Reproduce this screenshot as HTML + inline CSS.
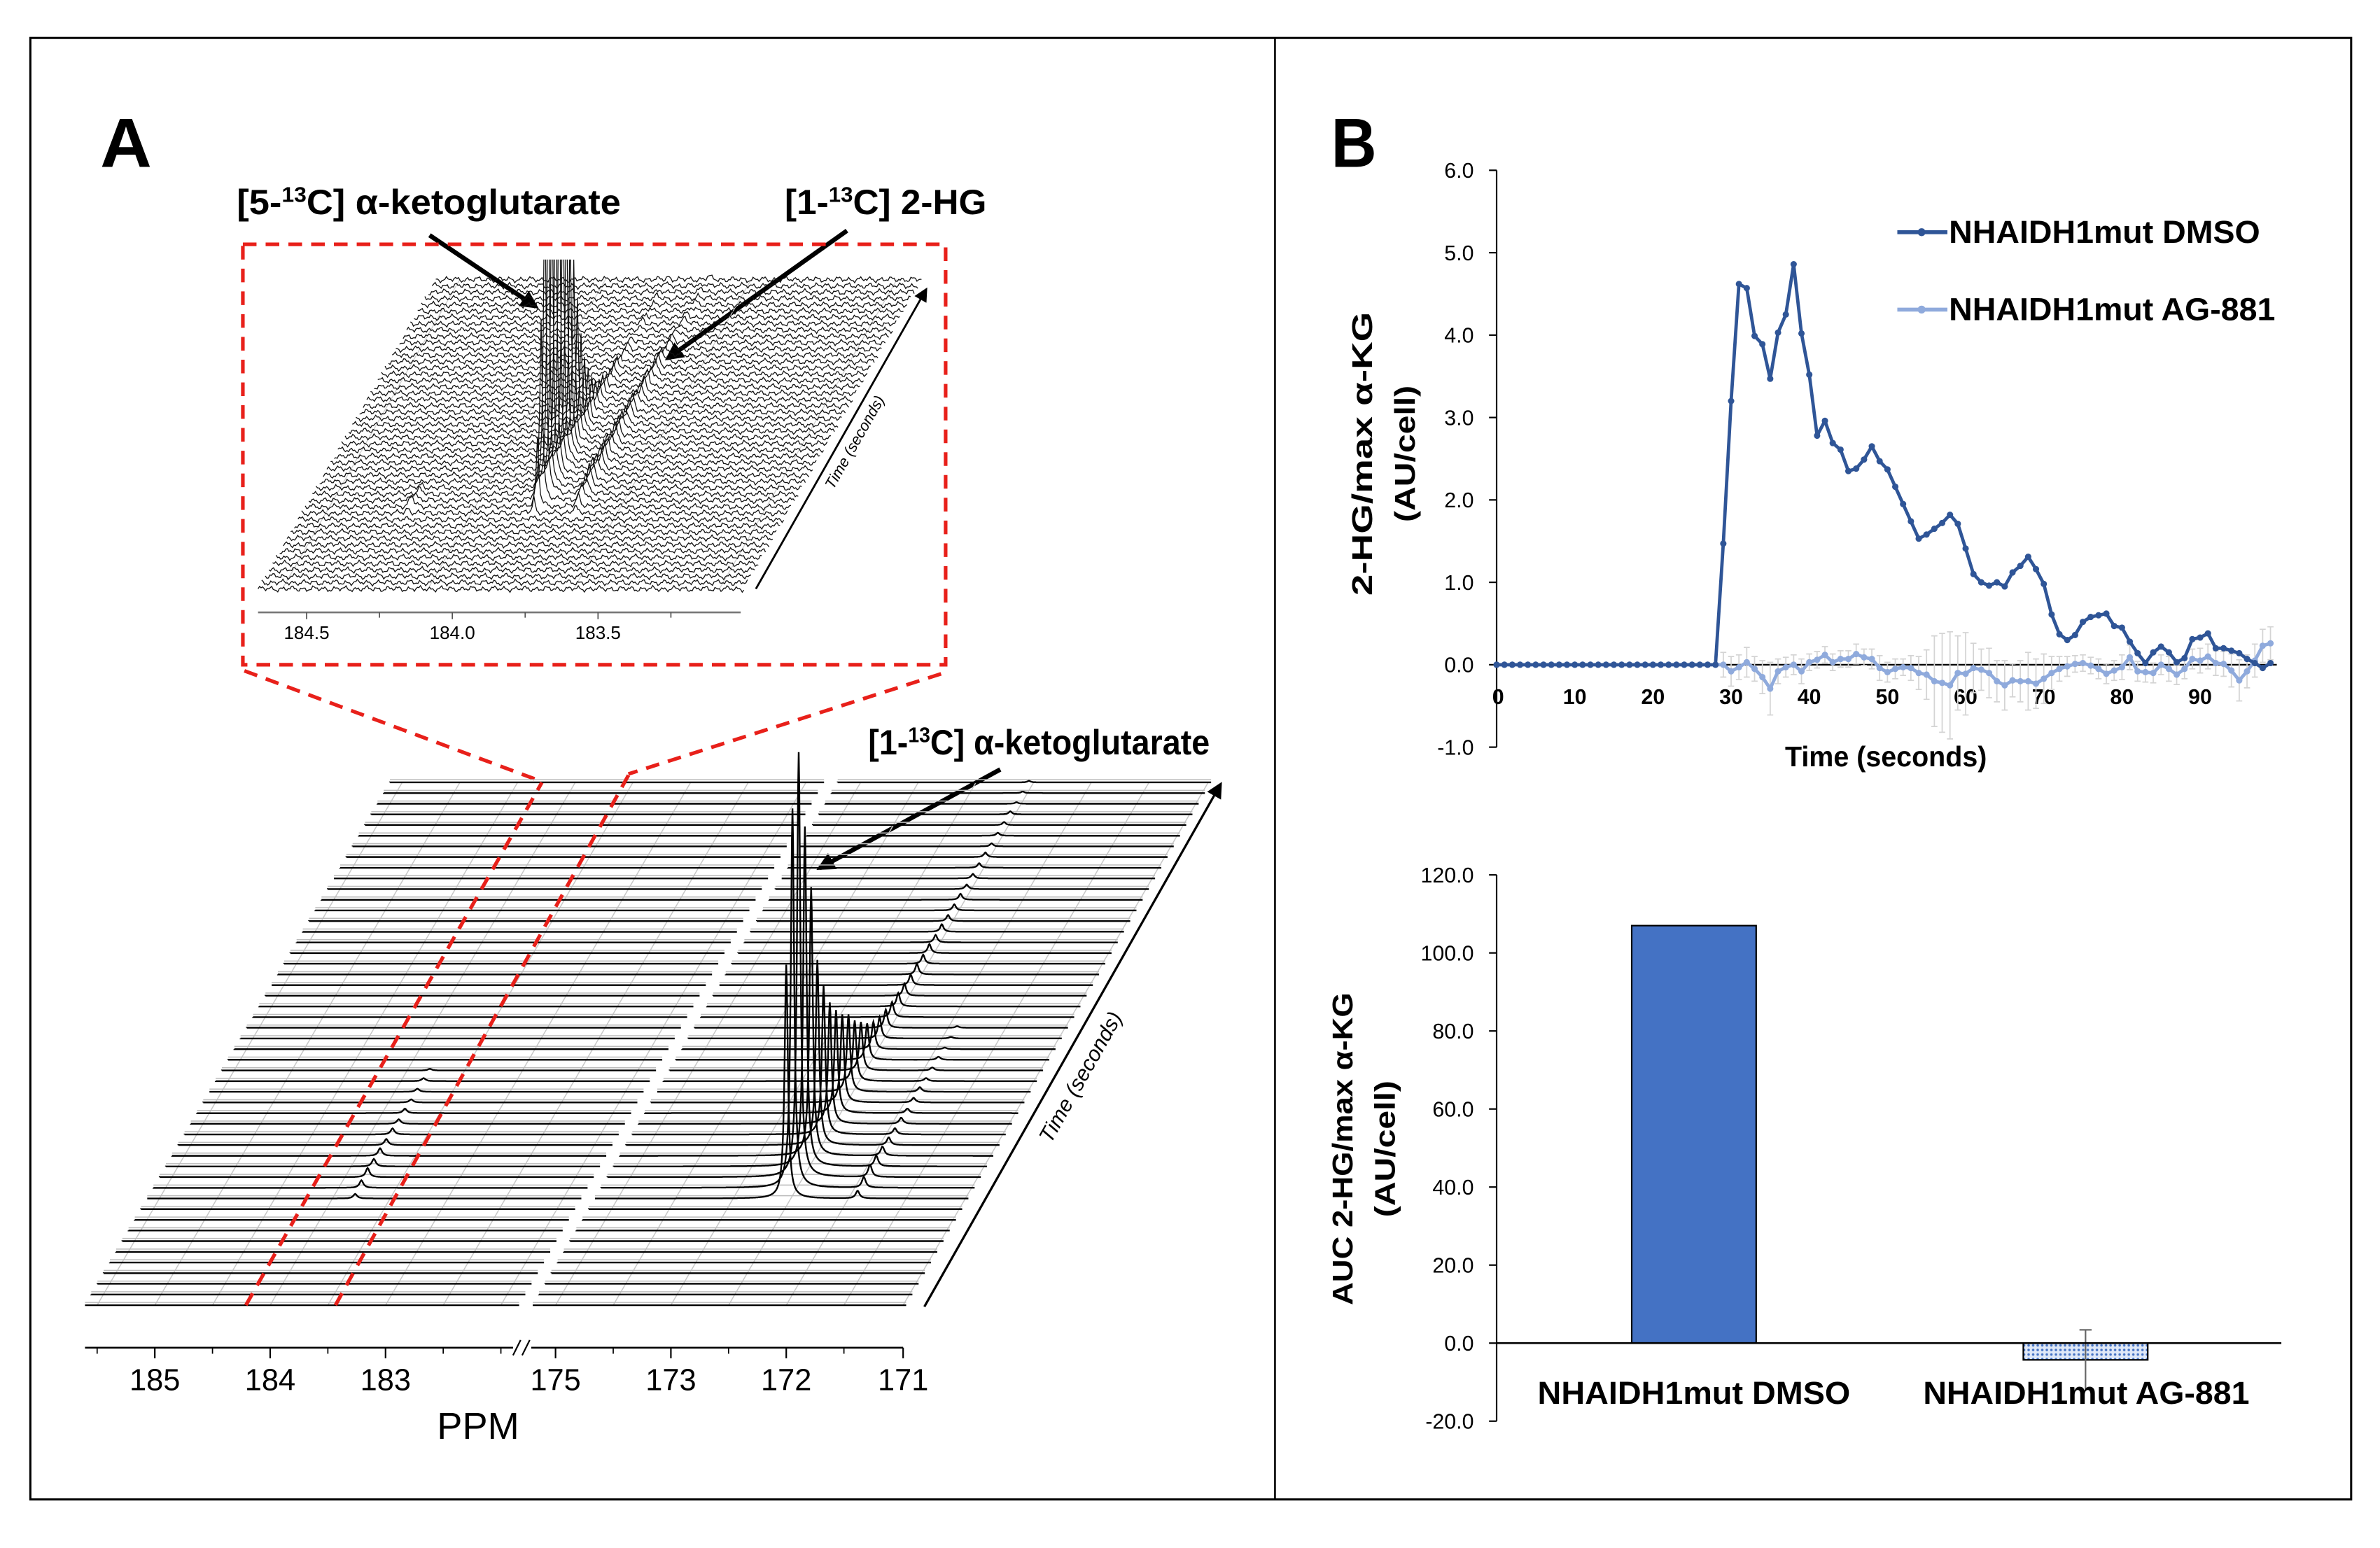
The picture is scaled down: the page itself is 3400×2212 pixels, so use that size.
<!DOCTYPE html>
<html><head><meta charset="utf-8"><style>
html,body{margin:0;padding:0;background:#fff}
svg{display:block}
.cond{font-family:"Liberation Sans Narrow","Liberation Sans",sans-serif;font-weight:bold}
.tick{font-family:"Liberation Sans Narrow","Liberation Sans",sans-serif;font-size:14px;fill:#000}
.ttl{font-family:"Liberation Sans","DejaVu Sans",sans-serif;font-weight:bold;font-size:19px}
</style></head><body>
<svg id="fig" xmlns="http://www.w3.org/2000/svg" width="3400" height="2212" viewBox="0 0 1568 1020" preserveAspectRatio="none">
<defs>
<marker id="ah" viewBox="0 0 10 10" refX="8" refY="5" markerWidth="4" markerHeight="4" orient="auto"><path d="M0,0 L10,5 L0,10 z" fill="#000"/></marker>
<marker id="ahs" viewBox="0 0 10 10" refX="8" refY="5" markerWidth="7" markerHeight="7" orient="auto"><path d="M0,0 L10,5 L0,10 z" fill="#000"/></marker>
<pattern id="dots" width="3" height="3" patternUnits="userSpaceOnUse"><rect width="3" height="3" fill="#dfe8f7"/><circle cx="1.5" cy="1.5" r="0.8" fill="#4472C4"/></pattern>
<clipPath id="insetClip"><rect x="150" y="171" width="480" height="240"/></clipPath>
</defs>
<rect x="20" y="25" width="1529" height="963" fill="none" stroke="#000" stroke-width="1.4"/>
<line x1="840" y1="25" x2="840" y2="988" stroke="#000" stroke-width="1.2"/>
<text class="cond" x="66" y="110" font-size="46" textLength="34" lengthAdjust="spacingAndGlyphs">A</text>
<text class="cond" x="877" y="110" font-size="46" textLength="30" lengthAdjust="spacingAndGlyphs">B</text>

<!-- Panel A labels -->
<text class="cond" x="156" y="141" font-size="23" textLength="253" lengthAdjust="spacingAndGlyphs">[5-<tspan font-size="14" dy="-8">13</tspan><tspan dy="8">C] α-ketoglutarate</tspan></text>
<text class="cond" x="517" y="141" font-size="23" textLength="133" lengthAdjust="spacingAndGlyphs">[1-<tspan font-size="14" dy="-8">13</tspan><tspan dy="8">C] 2-HG</tspan></text>
<text class="cond" x="572" y="497" font-size="23" textLength="225" lengthAdjust="spacingAndGlyphs">[1-<tspan font-size="14" dy="-8">13</tspan><tspan dy="8">C] α-ketoglutarate</tspan></text>
<line x1="283" y1="155" x2="353" y2="202" stroke="#000" stroke-width="3" marker-end="url(#ah)"/>
<line x1="558" y1="152" x2="440" y2="236" stroke="#000" stroke-width="3" marker-end="url(#ah)"/>
<line x1="659" y1="507" x2="540" y2="572" stroke="#000" stroke-width="3" marker-end="url(#ah)"/>

<rect x="160" y="161" width="463" height="277" fill="none" stroke="#e8201a" stroke-width="2.4" stroke-dasharray="9,6"/>
<line x1="161" y1="442" x2="357" y2="515" stroke="#e8201a" stroke-width="2.4" stroke-dasharray="9,6"/>
<line x1="620" y1="444" x2="414" y2="510" stroke="#e8201a" stroke-width="2.4" stroke-dasharray="9,6"/>

<g id="inset"></g>
<g id="lower"></g>

<line x1="498" y1="388" x2="610" y2="191" stroke="#000" stroke-width="1.3" marker-end="url(#ahs)"/>
<text transform="translate(566,293) rotate(-60.4)" font-family="Liberation Sans,sans-serif" font-style="italic" font-size="10" text-anchor="middle">Time (seconds)</text>
<line x1="609" y1="861" x2="804" y2="517" stroke="#000" stroke-width="1.5" marker-end="url(#ahs)"/>
<text transform="translate(716,712) rotate(-60.5)" font-family="Liberation Sans,sans-serif" font-style="italic" font-size="14" text-anchor="middle">Time (seconds)</text>
<text x="315" y="948" font-family="Liberation Sans,sans-serif" font-size="25" text-anchor="middle">PPM</text>

<g id="c1"></g>
<g id="c2"></g>
</svg>
<script>
var NS='http://www.w3.org/2000/svg';
function mk(parent,tag,attrs,txt){var e=document.createElementNS(NS,tag);for(var k in attrs)e.setAttribute(k,attrs[k]);if(txt!==undefined)e.textContent=txt;parent.appendChild(e);return e;}

/* ===== Chart 1 data ===== */
var times=[];for(var i=0;i<=99;i++)times.push(i);
var dmsoTail=[1.47,3.2,4.62,4.57,3.99,3.89,3.47,4.03,4.25,4.86,4.02,3.52,2.78,2.96,2.69,2.61,2.35,2.38,2.49,2.65,2.47,2.37,2.16,1.95,1.74,1.53,1.58,1.65,1.72,1.82,1.71,1.41,1.10,1.00,0.96,1.00,0.95,1.12,1.20,1.31,1.16,0.98,0.61,0.37,0.30,0.36,0.52,0.58,0.60,0.62,0.47,0.45,0.28,0.14,0.02,0.15,0.22,0.15,0.03,0.08,0.31,0.33,0.38,0.20,0.20,0.17,0.14,0.07,0.02,-0.04,0.02];
var agTail=[0,-0.08,-0.03,0.03,-0.05,-0.15,-0.29,-0.08,-0.03,0,-0.08,0.03,0.06,0.12,0.03,0.07,0.07,0.13,0.09,0.07,-0.04,-0.09,-0.05,-0.03,-0.04,-0.1,-0.12,-0.2,-0.22,-0.25,-0.1,-0.11,-0.04,-0.06,-0.1,-0.2,-0.25,-0.19,-0.2,-0.2,-0.23,-0.17,-0.1,-0.05,-0.02,0.01,0.02,-0.01,-0.05,-0.11,-0.07,-0.03,0.09,-0.08,-0.09,-0.1,0,-0.05,-0.12,-0.05,0.07,0.05,0.1,0.02,0.01,-0.07,-0.19,-0.08,0.05,0.23,0.26];
var agErrTail=[0.15,0.18,0.15,0.18,0.15,0.2,0.32,0.15,0.12,0.12,0.15,0.1,0.1,0.1,0.1,0.1,0.1,0.12,0.1,0.12,0.15,0.12,0.12,0.1,0.15,0.2,0.3,0.55,0.6,0.65,0.45,0.5,0.3,0.25,0.3,0.25,0.3,0.2,0.25,0.35,0.3,0.3,0.2,0.15,0.12,0.1,0.1,0.1,0.12,0.12,0.12,0.15,0.15,0.12,0.12,0.12,0.12,0.15,0.12,0.12,0.12,0.15,0.15,0.15,0.15,0.2,0.25,0.2,0.2,0.2,0.2];
var zeros=[];for(i=0;i<29;i++)zeros.push(0);
var dmso=zeros.concat(dmsoTail), ag=zeros.concat(agTail), agErr=zeros.concat(agErrTail);
var yTicks1=[6,5,4,3,2,1,0,-1];
var xTicks1=[0,10,20,30,40,50,60,70,80,90];

/* ===== Chart 2 data ===== */
var barCats=['NHAIDH1mut DMSO','NHAIDH1mut AG-881'];
var barVals=[107.0,-4.3];
var barErr=[0,7.7];
var yTicks2=[120,100,80,60,40,20,0,-20];

/* ===== Spectra data (peak heights per time row) ===== */
var mainPeakH=[0,0,0,0,0,0,0,0,0,0,154,250,280,224,177,122,98,80,68,58,51,40,32,24,18,14,12,10,9,8,7,7,6,6,5,5,4,4,4,3,3,3,3,2,2,2,2,1,1,1];
var sidePeakH=[0,0,0,0,0,0,0,0,0,0,5,7,8,7,6,5,4,4,3,3,3,2,2,2,1,1,1,0,0,0,0,0,0,0,0,0,0,0,0,0,0,0,0,0,0,0,0,0,0,0];
var leftPeakH=[0,0,0,0,0,0,0,0,0,0,3,5,6,5,5,4,4,3,3,2,2,2,1,0,0,0,0,0,0,0,0,0,0,0,0,0,0,0,0,0,0,0,0,0,0,0,0,0,0,0];
var insetAkgH=[0,0,0,0,0,0,0,0,0,0,0,2,10,45,120,220,220,220,220,220,200,180,150,120,90,65,45,32,24,18,14,11,9,8,7,6,5,5,4,4,3,3,3,3,2,2,2,2,2,2];
var insetHgH=[0,0,0,0,0,0,0,0,0,0,0,0,4,8,12,14,15,15,15,15,15,14,14,14,13,13,13,12,12,12,12,11,11,10,10,9,8,7,6,5,5,4,4,3,3,3,2,2,2,2];
var insetSmallH=[0,0,0,0,0,0,0,0,0,0,0,0,3,8,6,4,2,0,0,0,0,0,0,0,0,0,0,0,0,0,0,0,0,0,0,0,0,0,0,0,0,0,0,0,0,0,0,0,0,0];
var ppmLabels=['185','184','183','175','173','172','171'];
var insetLabels=['184.5','184.0','183.5'];

/* ---------- Chart 1 ---------- */
(function(){
var g=document.getElementById('c1');
function xs(t){return 986+t*5.15;}
function ys(v){return 438-v*54.3;}
var ax=mk(g,'line',{x1:986,y1:ys(6),x2:986,y2:ys(-1),stroke:'#000','stroke-width':1});


yTicks1.forEach(function(v){
 var tk=mk(g,'line',{x1:981,y1:ys(v),x2:986,y2:ys(v),stroke:'#000','stroke-width':1});
 
 
 var tl=mk(g,'text',{x:971,y:ys(v)+5,'text-anchor':'end','class':'tick'},v.toFixed(1));
 
 
});
var xa=mk(g,'line',{x1:986,y1:ys(0),x2:1500,y2:ys(0),stroke:'#000','stroke-width':1});


xTicks1.forEach(function(t){
 var tl=mk(g,'text',{x:xs(t)+(t===0?1:0),y:464,'text-anchor':'middle','class':'tick','font-weight':'bold'},String(t));
 
 
});
// error bars for AG
times.forEach(function(t,i){
 if(agErr[i]>0){
  var eb=mk(g,'path',{d:'M'+xs(t)+','+ys(ag[i]+agErr[i])+'V'+ys(ag[i]-agErr[i])+'M'+(xs(t)-2)+','+ys(ag[i]+agErr[i])+'h4M'+(xs(t)-2)+','+ys(ag[i]-agErr[i])+'h4',stroke:'#d4d4d4','stroke-width':0.8,fill:'none'});
  
  
 }
});
function series(vals,color,name){
 var pts=times.map(function(t,i){return xs(t)+','+ys(vals[i]);}).join(' ');
 var pl=mk(g,'polyline',{points:pts,fill:'none',stroke:color,'stroke-width':2.2,'stroke-linejoin':'round'});
 
 
 times.forEach(function(t,i){
  var c=mk(g,'circle',{cx:xs(t),cy:ys(vals[i]),r:2.1,fill:color});
  
  
 });
}
series(ag,'#8FAADC','ag881');
series(dmso,'#2F5597','dmso');
// legend
var l1=mk(g,'line',{x1:1250,y1:153,x2:1283,y2:153,stroke:'#2F5597','stroke-width':2.6});


var c1=mk(g,'circle',{cx:1266,cy:153,r:2.6,fill:'#2F5597'});


var t1=mk(g,'text',{x:1284,y:160,'class':'cond','font-size':21,textLength:205,lengthAdjust:'spacingAndGlyphs'},'NHAIDH1mut DMSO');


var l2=mk(g,'line',{x1:1250,y1:204,x2:1283,y2:204,stroke:'#8FAADC','stroke-width':2.6});


var c2=mk(g,'circle',{cx:1266,cy:204,r:2.6,fill:'#8FAADC'});


var t2=mk(g,'text',{x:1284,y:211,'class':'cond','font-size':21,textLength:215,lengthAdjust:'spacingAndGlyphs'},'NHAIDH1mut AG-881');


var xt=mk(g,'text',{x:1176,y:505,'class':'cond','font-size':19,textLength:133,lengthAdjust:'spacingAndGlyphs'},'Time (seconds)');


var yt1=mk(g,'text',{transform:'translate(904,299) rotate(-90)','text-anchor':'middle','class':'ttl',textLength:187,lengthAdjust:'spacingAndGlyphs'},'2-HG/max α-KG');


var yt2=mk(g,'text',{transform:'translate(932,299) rotate(-90)','text-anchor':'middle','class':'ttl',textLength:90,lengthAdjust:'spacingAndGlyphs'},'(AU/cell)');


})();

/* ---------- Chart 2 ---------- */
(function(){
var g=document.getElementById('c2');
function ys(v){return 885-v*2.571;}
var barX=[1116,1374], bw=82;
var ax=mk(g,'line',{x1:986,y1:ys(120),x2:986,y2:ys(-20),stroke:'#000','stroke-width':1});


yTicks2.forEach(function(v){
 var tk=mk(g,'line',{x1:981,y1:ys(v),x2:986,y2:ys(v),stroke:'#000','stroke-width':1});
 
 
 var tl=mk(g,'text',{x:971,y:ys(v)+5,'text-anchor':'end','class':'tick'},v.toFixed(1));
 
 
});
barVals.forEach(function(v,i){
 var top=Math.min(ys(v),ys(0)), h=Math.abs(ys(v)-ys(0));
 var r=mk(g,'rect',{x:barX[i]-bw/2,y:top,width:bw,height:h,fill:i===0?'#4472C4':'url(#dots)',stroke:'#000','stroke-width':1});
 
 
 if(barErr[i]>0){
  var e=mk(g,'path',{d:'M'+barX[i]+','+ys(v+barErr[i])+'V'+ys(v-barErr[i])+'M'+(barX[i]-4)+','+ys(v+barErr[i])+'h8',stroke:'#666','stroke-width':1,fill:'none'});
  
  
 }
 var lb=mk(g,'text',{x:barX[i]-(i===0?103:107),y:925,'class':'cond','font-size':21,textLength:(i===0?206:215),lengthAdjust:'spacingAndGlyphs'},barCats[i]);
 
 
});
var xa=mk(g,'line',{x1:986,y1:ys(0),x2:1503,y2:ys(0),stroke:'#000','stroke-width':1.2});


var yt1=mk(g,'text',{transform:'translate(891,757) rotate(-90)','text-anchor':'middle','class':'ttl',textLength:206,lengthAdjust:'spacingAndGlyphs'},'AUC 2-HG/max α-KG');


var yt2=mk(g,'text',{transform:'translate(919,757) rotate(-90)','text-anchor':'middle','class':'ttl',textLength:90,lengthAdjust:'spacingAndGlyphs'},'(AU/cell)');


})();

/* ---------- Lower waterfall ---------- */
(function(){
var g=document.getElementById('lower');
var N=50, dy=7.03, dx=4.1, segL=286, rStart=295, rEnd=541;
var gridX=[64,102,140,178,216,254,292,330,366,404,442,480,518,556,595];
gridX.forEach(function(x){
 var gl=mk(g,'line',{x1:x,y1:860,x2:x+201,y2:860-49*dy,stroke:'#c8c8c8','stroke-width':0.7});
 
 
});
function lor(x,x0,h,w){var d=(x-x0)/w;return h/(1+d*d);}
for(var r=N-1;r>=0;r--){
 var y0=860-r*dy, xL=56+r*dx;
 var sh=mk(g,'path',{d:'M'+xL+','+(y0-1.8)+'h'+segL+'M'+(xL+rStart)+','+(y0-1.8)+'H'+(xL+rEnd),stroke:'#bbb','stroke-width':0.7,fill:'none'});
 
 
 var d='M'+xL+','+y0;
 for(var x=0;x<=segL;x+=0.5){d+='L'+(xL+x).toFixed(1)+','+(y0-lor(x,137,leftPeakH[r],1.5)).toFixed(1);}
 d+='M'+(xL+rStart)+','+y0;
 for(x=rStart;x<=rEnd;x+=0.4){var h=lor(x,421,mainPeakH[r],1.3)+lor(x,468,sidePeakH[r],1.5);d+='L'+(xL+x).toFixed(1)+','+(y0-h).toFixed(1);}
 var p=mk(g,'path',{d:d,stroke:'#000','stroke-width':1.1,fill:'none'});
 
 
}
var ax=mk(g,'path',{d:'M56,888H338M350,888H595',stroke:'#000','stroke-width':1.2,fill:'none'});


var br=mk(g,'path',{d:'M338,893l5,-10M344,893l5,-10',stroke:'#000','stroke-width':1,fill:'none'});


var majors=[102,178,254,366,442,518,595];
var minors=[64,140,216,292,330,404,480,556];
majors.forEach(function(x,i){
 var t=mk(g,'line',{x1:x,y1:888,x2:x,y2:895,stroke:'#000','stroke-width':1});
 
 
 var l=mk(g,'text',{x:x,y:916,'text-anchor':'middle','font-family':'Liberation Sans Narrow,Liberation Sans,sans-serif','font-size':20},ppmLabels[i]);
 
 
});
minors.forEach(function(x){
 var t=mk(g,'line',{x1:x,y1:888,x2:x,y2:892,stroke:'#000','stroke-width':0.8});
 
 
});
// red dashed guides
var rd=mk(g,'path',{d:'M162,860L357,515.6M221,860L414.5,510',stroke:'#e8201a','stroke-width':2.4,'stroke-dasharray':'9,6',fill:'none'});


})();

/* ---------- Inset waterfall ---------- */
(function(){
var g=document.getElementById('inset');
var cg=mk(g,'g',{'clip-path':'url(#insetClip)'});


var N=50, dy=4.16, dx=2.39, W=320;
function lor(x,x0,h,w){var d=(x-x0)/w;return h/(1+d*d);}
[0,96,192,288].forEach(function(o){
 var gl=mk(cg,'line',{x1:186+o,y1:388,x2:186+o+117,y2:184,stroke:'#d0d0d0','stroke-width':0.6});
 
 
});
for(var r=N-1;r>=0;r--){
 var y0=388-r*dy, xL=170+r*dx, d='';
 for(var x=0;x<=W;x+=1){
  var tex=1.1*Math.sin(x*0.9+r*1.7)+0.7*Math.sin(x*2.3+r*0.6)+0.5*Math.sin(x*0.37+r*2.9);
  var h=tex+lor(x,153,insetAkgH[r],1.0)+lor(x,180,insetHgH[r],1.6)+lor(x,70,insetSmallH[r],1.6);
  d+=(x===0?'M':'L')+(xL+x).toFixed(1)+','+(y0-h).toFixed(1);
 }
 var p=mk(cg,'path',{d:d,stroke:'#111','stroke-width':0.6,fill:'none'});
 
 
}
var ax=mk(g,'line',{x1:170,y1:403.5,x2:488,y2:403.5,stroke:'#777','stroke-width':1.2});


[202,298,394].forEach(function(x,i){
 var t=mk(g,'line',{x1:x,y1:403.5,x2:x,y2:408,stroke:'#555','stroke-width':0.8});
 
 
 var l=mk(g,'text',{x:x,y:421,'text-anchor':'middle','font-family':'Liberation Sans Narrow,Liberation Sans,sans-serif','font-size':12},insetLabels[i]);
 
 
});
[250,346,442].forEach(function(x){
 var t=mk(g,'line',{x1:x,y1:403.5,x2:x,y2:407,stroke:'#555','stroke-width':0.8});
 
 
});
})();
</script>
</body></html>
